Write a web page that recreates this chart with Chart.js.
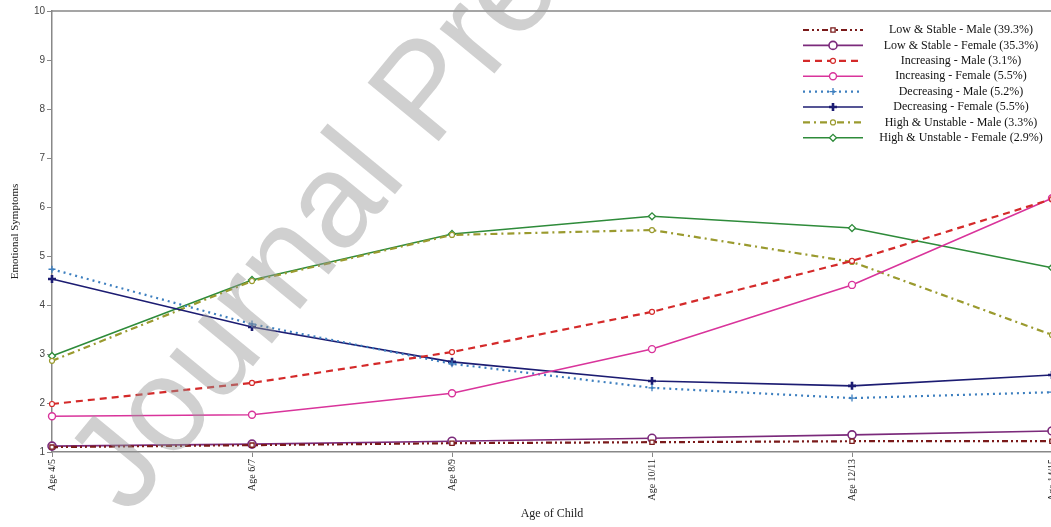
<!DOCTYPE html>
<html>
<head>
<meta charset="utf-8">
<script src="https://cdn.jsdelivr.net/npm/chart.js@4.4.0/dist/chart.umd.min.js"></script>
<style>
html,body{margin:0;padding:0;background:#fff;overflow:hidden;}
#wrap{width:1066px;height:527px;}
</style>
</head>
<body>
<div id="wrap"><canvas id="c" width="1066" height="527"></canvas></div>
<script>
const categories = ["Age 4/5", "Age 6/7", "Age 8/9", "Age 10/11", "Age 12/13", "Age 14/15"];
const yTicks = [1, 2, 3, 4, 5, 6, 7, 8, 9, 10];
const seriesNames = [
  "Low & Stable - Male (39.3%)",
  "Low & Stable - Female (35.3%)",
  "Increasing - Male (3.1%)",
  "Increasing - Female (5.5%)",
  "Decreasing - Male (5.2%)",
  "Decreasing - Female (5.5%)",
  "High & Unstable - Male (3.3%)",
  "High & Unstable - Female (2.9%)"
];
const lowStableMale     = [1.10, 1.14, 1.18, 1.20, 1.22, 1.22];
const lowStableFemale   = [1.12, 1.16, 1.22, 1.28, 1.35, 1.43];
const increasingMale    = [1.98, 2.41, 3.04, 3.86, 4.90, 6.16];
const increasingFemale  = [1.73, 1.76, 2.20, 3.10, 4.41, 6.18];
const decreasingMale    = [4.73, 3.61, 2.80, 2.31, 2.10, 2.22];
const decreasingFemale  = [4.53, 3.55, 2.84, 2.45, 2.35, 2.57];
const highUnstableMale  = [2.86, 4.49, 5.43, 5.53, 4.88, 3.39];
const highUnstableFemale= [2.96, 4.51, 5.45, 5.81, 5.57, 4.76];

const seriesValues = [lowStableMale, lowStableFemale, increasingMale, increasingFemale,
  decreasingMale, decreasingFemale, highUnstableMale, highUnstableFemale];
const styles = [
  {c:'#7a1a1a', w:2.2, dash:[6,3,2,3,2,3], ps:'rect', r:3, bw:1.3},
  {c:'#7b2a7b', w:1.6, dash:[], ps:'circle', r:4, bw:1.6},
  {c:'#d42a2a', w:2.2, dash:[7,5], ps:'circle', r:2.5, bw:1.2},
  {c:'#d9349b', w:1.6, dash:[], ps:'circle', r:3.5, bw:1.4},
  {c:'#3d7fbf', w:2.2, dash:[2,4], ps:'cross', r:3.5, bw:1.3},
  {c:'#1c1c72', w:1.6, dash:[], ps:'cross', r:4, bw:2.6},
  {c:'#9a9a2e', w:2.2, dash:[7,4,2,4], ps:'circle', r:2.5, bw:1.2},
  {c:'#2e8b3a', w:1.6, dash:[], ps:'rectRot', r:3.5, bw:1.3}
];

const datasets = seriesValues.map((vals, i) => ({
  label: seriesNames[i],
  data: vals,
  borderColor: styles[i].c,
  backgroundColor: '#ffffff',
  borderWidth: styles[i].w,
  borderDash: styles[i].dash,
  pointStyle: styles[i].ps,
  pointRadius: styles[i].r,
  pointBorderWidth: styles[i].bw,
  pointBorderColor: styles[i].c,
  pointBackgroundColor: '#ffffff',
  tension: 0,
  fill: false
}));

const legendPlugin = {
  id: 'customLegend',
  afterDatasetsDraw(chart) {
    const ctx = chart.ctx;
    ctx.save();
    const x0 = 803, x1 = 863, xm = 833, ty = 30, dy = 15.4, tx = 961;
    chart.data.datasets.forEach((ds, i) => {
      const y = ty + i * dy;
      ctx.strokeStyle = ds.borderColor;
      ctx.lineWidth = ds.borderWidth;
      ctx.setLineDash(ds.borderDash);
      ctx.beginPath(); ctx.moveTo(x0, y); ctx.lineTo(x1, y); ctx.stroke();
      ctx.setLineDash([]);
      ctx.lineWidth = ds.pointBorderWidth;
      ctx.fillStyle = '#ffffff';
      Chart.helpers.drawPoint(ctx, {pointStyle: ds.pointStyle, rotation: 0,
        radius: ds.pointRadius, borderWidth: ds.pointBorderWidth}, xm, y);
      ctx.fillStyle = '#111';
      ctx.font = '12px "Liberation Serif", serif';
      ctx.textAlign = 'center';
      ctx.textBaseline = 'middle';
      ctx.fillText(ds.label, tx, y);
    });
    ctx.restore();
  }
};

const framePlugin = {
  id: 'frame',
  afterDraw(chart) {
    const {ctx, chartArea:a} = chart;
    ctx.save();
    ctx.strokeStyle = '#888';
    ctx.lineWidth = 1.5;
    ctx.beginPath();
    ctx.moveTo(a.left, a.top); ctx.lineTo(a.right, a.top); ctx.lineTo(a.right, a.bottom);
    ctx.stroke();
    // watermark
    ctx.translate(100, 494);
    ctx.rotate(-50.5 * Math.PI / 180);
    ctx.fillStyle = 'rgba(150,150,150,0.45)';
    ctx.font = '134px "Liberation Sans", Arial, sans-serif';
    ctx.textAlign = 'left';
    ctx.textBaseline = 'middle';
    ctx.fillText('Journal Pre-proof', 0, 0);
    ctx.restore();
  }
};

new Chart(document.getElementById('c'), {
  type: 'line',
  data: { labels: categories, datasets },
  options: {
    responsive: false,
    animation: false,
    layout: { padding: { top: 11, right: 0, left: 0, bottom: 0 } },
    plugins: { legend: { display: false }, tooltip: { enabled: false } },
    scales: {
      x: {
        type: 'category',
        offset: false,
        grid: { display: true, drawOnChartArea: false, drawTicks: true, tickLength: 5, color: '#888' },
        border: { color: '#888', width: 1.5 },
        ticks: { maxRotation: 90, minRotation: 90, padding: 2, color: '#222',
          font: { family: '"Liberation Serif", serif', size: 10 } },
        title: { display: true, text: 'Age of Child', color: '#222', padding: { top: 0, bottom: 6 },
          font: { family: '"Liberation Serif", serif', size: 12 } },
        afterFit(s) { s.height = 75; }
      },
      y: {
        min: 1, max: 10,
        afterBuildTicks(s) { s.ticks = yTicks.map(v => ({ value: v })); },
        grid: { display: true, drawOnChartArea: false, drawTicks: true, tickLength: 5, color: '#888' },
        border: { color: '#888', width: 1.5 },
        ticks: { padding: 2, color: '#444', font: { family: '"Liberation Sans", Arial, sans-serif', size: 10 } },
        title: { display: true, text: 'Emotional Symptoms', color: '#222', padding: { top: 9, bottom: 0 },
          font: { family: '"Liberation Serif", serif', size: 11 } },
        afterFit(s) { s.width = 52; }
      }
    }
  },
  plugins: [legendPlugin, framePlugin]
});
</script>
</body>
</html>
